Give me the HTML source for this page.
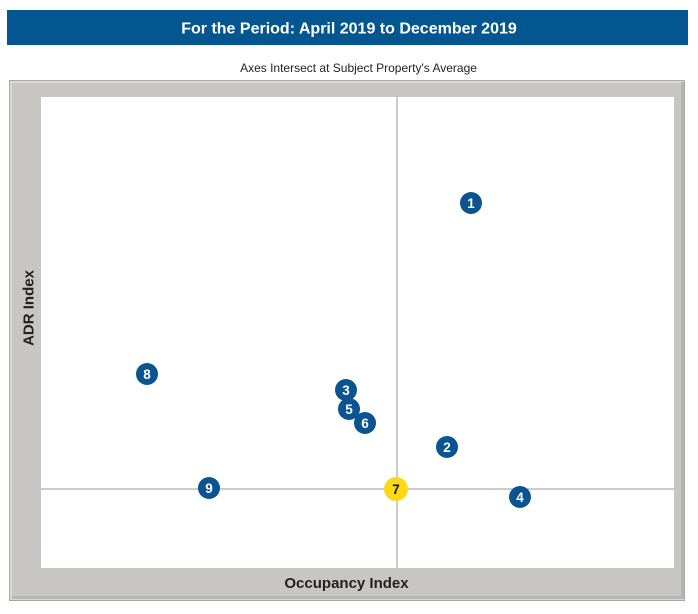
<!DOCTYPE html>
<html><head><meta charset="utf-8"><style>
html,body{margin:0;padding:0;background:#fff;}
body{width:698px;height:609px;overflow:hidden;font-family:"Liberation Sans",Arial,sans-serif;}
</style></head><body>
<svg width="698" height="609" viewBox="0 0 698 609" xmlns="http://www.w3.org/2000/svg" font-family="Liberation Sans, Arial, sans-serif">
<rect x="0" y="0" width="698" height="609" fill="#fff"/>
<rect x="7" y="10" width="681" height="35" fill="#03568f"/>
<text x="349" y="33.5" text-anchor="middle" font-size="16" font-weight="bold" fill="#fff">For the Period: April 2019 to December 2019</text>
<text x="358.5" y="72" text-anchor="middle" font-size="12" fill="#222">Axes Intersect at Subject Property's Average</text>
<!-- panel -->
<rect x="9" y="80" width="676" height="521" fill="#a9a8a5"/>
<rect x="10" y="81" width="674" height="519" fill="#d9d8d4"/>
<rect x="12" y="83" width="670" height="515" fill="#c8c6c2"/>
<rect x="681" y="82" width="3" height="517" fill="#b5b4b0"/>
<rect x="12" y="596" width="671" height="3" fill="#b8b7b3"/>
<rect x="41" y="97" width="633" height="471" fill="#fff"/>
<line x1="397" y1="97" x2="397" y2="568" stroke="#9a9a9a" stroke-width="1"/>
<line x1="41" y1="489" x2="674" y2="489" stroke="#9a9a9a" stroke-width="1"/>
<text x="346.5" y="588" text-anchor="middle" font-size="15" font-weight="bold" fill="#222">Occupancy Index</text>
<text transform="translate(33.5,308) rotate(-90)" text-anchor="middle" font-size="15" font-weight="bold" fill="#222">ADR Index</text>
<g font-size="13.5" font-weight="bold" text-anchor="middle">
<circle cx="471" cy="203" r="11" fill="#0b5490"/><text x="471" y="208" fill="#fff">1</text>
<circle cx="147" cy="374" r="11" fill="#0b5490"/><text x="147" y="379" fill="#fff">8</text>
<circle cx="346" cy="390" r="11" fill="#0b5490"/><text x="346" y="395" fill="#fff">3</text>
<circle cx="349" cy="409" r="11" fill="#0b5490"/><text x="349" y="414" fill="#fff">5</text>
<circle cx="365" cy="423" r="11" fill="#0b5490"/><text x="365" y="428" fill="#fff">6</text>
<circle cx="447" cy="447" r="11" fill="#0b5490"/><text x="447" y="452" fill="#fff">2</text>
<circle cx="520" cy="497" r="11" fill="#0b5490"/><text x="520" y="502" fill="#fff">4</text>
<circle cx="209" cy="488" r="11" fill="#0b5490"/><text x="209" y="493" fill="#fff">9</text>
<circle cx="396" cy="489" r="12" fill="#fbd914"/><text x="396" y="494" fill="#111">7</text>
</g>
</svg>
</body></html>
